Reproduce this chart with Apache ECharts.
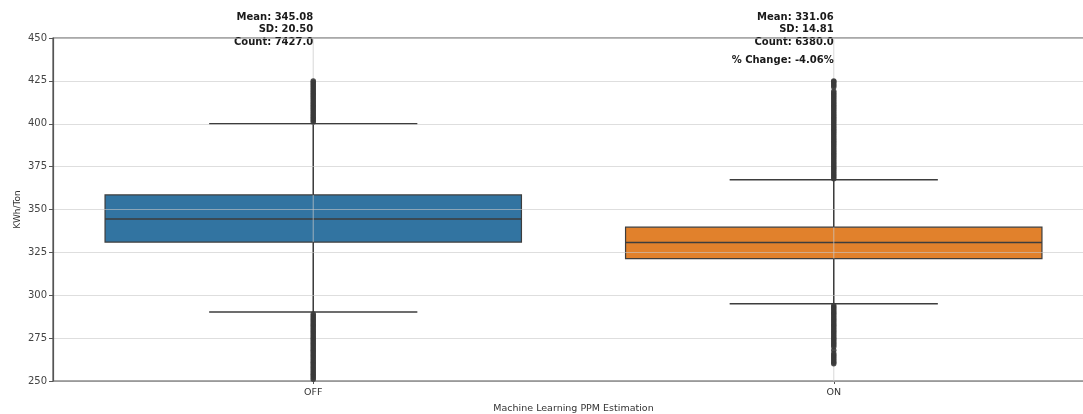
<!DOCTYPE html>
<html>
<head>
<meta charset="utf-8">
<script src="https://cdn.jsdelivr.net/npm/echarts@6/dist/echarts.min.js"></script>
<style>
  html, body { margin: 0; padding: 0; background: #fff; }
  #chart { width: 1083px; height: 414px; }
</style>
</head>
<body>
<div id="chart"></div>
<script>
// categories and box stats
var categories = ['OFF', 'ON'];
var q1 = [331.0, 321.4];
var medians = [344.5, 330.7];
var q3 = [358.5, 339.7];
var whiskerLow = [290.3, 295.0];
var whiskerHigh = [400.0, 367.3];
var boxColors = ['#3274a1', '#e1812c'];

// summary text
var means = ['345.08', '331.06'];
var sds = ['20.50', '14.81'];
var counts = ['7427.0', '6380.0'];
var pctChange = '-4.06%';

// outliers, estimated from the dense marker columns
var offHigh = [401, 402, 403, 404, 405, 406, 407, 408, 409, 410, 411, 412, 413,
    414, 415, 416, 417, 418, 419, 420, 421, 422, 423, 424, 425];
var offLow = [289, 288, 287, 286, 285, 284, 283, 282, 281, 280, 279, 278, 277,
    276, 275, 274, 273, 272, 271, 270, 269, 268, 267, 266, 265, 264, 263, 262,
    261, 260, 259, 258, 257, 256, 255, 254, 253, 252, 251];
var onHigh = [368, 369, 370, 371, 372, 373, 374, 375, 376, 377, 378, 379, 380,
    381, 382, 383, 384, 385, 386, 387, 388, 389, 390, 391, 392, 393, 394, 395,
    396, 397, 398, 399, 400, 401, 402, 403, 404, 405, 406, 407, 408, 409, 410,
    411, 412, 413, 414, 415, 416, 417, 418, 419, 421.5, 422.5, 423.5, 424.5, 425];
var onLow = [294, 293, 292, 291, 290, 289, 288, 287, 286, 285, 284, 283, 282,
    281, 280, 279, 278, 277, 276, 275, 274, 273, 272, 271, 270, 268, 266, 265,
    264, 263, 262, 261, 260];

var yTicks = [250, 275, 300, 325, 350, 375, 400, 425, 450];

var FONT = 'DejaVu Sans';
var EDGE = '#3d3d3d';

var boxData = [];
for (var i = 0; i < categories.length; i++)
    boxData.push([i, q1[i], medians[i], q3[i], whiskerLow[i], whiskerHigh[i]]);

var outlierData = [];
function addOutliers(idx, arr) {
    for (var k = 0; k < arr.length; k++)
        outlierData.push([idx, arr[k]]);
}
addOutliers(0, offHigh);
addOutliers(0, offLow);
addOutliers(1, onHigh);
addOutliers(1, onLow);

function renderBox(params, api) {
    var idx = api.value(0);
    var cs = params.coordSys;
    var cx = api.coord([idx, 0])[0];
    var band = api.size([1, 0])[0];
    var boxW = band * 0.8, capW = band * 0.4;
    var yQ1 = api.coord([idx, api.value(1)])[1];
    var yMed = api.coord([idx, api.value(2)])[1];
    var yQ3 = api.coord([idx, api.value(3)])[1];
    var yLo = api.coord([idx, api.value(4)])[1];
    var yHi = api.coord([idx, api.value(5)])[1];
    var lineStyle = { stroke: EDGE, lineWidth: 1.5 };
    var children = [
        {
            type: 'rect',
            shape: { x: cx - boxW / 2, y: yQ3, width: boxW, height: yQ1 - yQ3 },
            style: { fill: boxColors[idx], stroke: EDGE, lineWidth: 1.2 }
        },
        {
            type: 'line',
            shape: { x1: cx - boxW / 2, y1: yMed, x2: cx + boxW / 2, y2: yMed },
            style: { stroke: '#3d3d3d', lineWidth: 1.5 }
        },
        {
            // vertical grid line through the category
            type: 'line',
            shape: { x1: cx, y1: cs.y, x2: cx, y2: cs.y + cs.height },
            style: { stroke: 'rgba(200,200,200,0.6)', lineWidth: 1.2 }
        },
        { type: 'line', shape: { x1: cx, y1: yQ3, x2: cx, y2: yHi }, style: lineStyle },
        { type: 'line', shape: { x1: cx, y1: yQ1, x2: cx, y2: yLo }, style: lineStyle },
        { type: 'line', shape: { x1: cx - capW / 2, y1: yHi, x2: cx + capW / 2, y2: yHi }, style: lineStyle },
        { type: 'line', shape: { x1: cx - capW / 2, y1: yLo, x2: cx + capW / 2, y2: yLo }, style: lineStyle },
        {
            type: 'text',
            x: cx,
            y: cs.y - 8.5,
            style: {
                text: 'Mean: ' + means[idx] + '\nSD: ' + sds[idx] + '\nCount: ' + counts[idx],
                font: 'bold 10px "' + FONT + '"',
                lineHeight: 12.5,
                fill: '#1a1a1a',
                align: 'right',
                verticalAlign: 'middle'
            }
        }
    ];
    if (idx === 1) {
        children.push({
            type: 'text',
            x: cx,
            y: cs.y + 22,
            style: {
                text: '% Change: ' + pctChange,
                font: 'bold 10px "' + FONT + '"',
                fill: '#1a1a1a',
                align: 'right',
                verticalAlign: 'middle'
            }
        });
    }
    return { type: 'group', children: children };
}

var chart = echarts.init(document.getElementById('chart'));
chart.setOption({
    animation: false,
    textStyle: { fontFamily: FONT },
    grid: {
        left: 53, width: 1041, top: 38, bottom: 33,
        outerBoundsMode: 'none',
        containLabel: false,
        show: true, borderColor: '#555', borderWidth: 1.2
    },
    xAxis: {
        type: 'category',
        data: categories,
        name: 'Machine Learning PPM Estimation',
        nameLocation: 'middle',
        nameGap: 23,
        nameMoveOverlap: false,
        nameTextStyle: { fontSize: 9.5, color: '#333', fontFamily: FONT },
        axisLine: { lineStyle: { color: '#555', width: 1.2 } },
        axisTick: { show: true, alignWithLabel: true, length: 3, lineStyle: { color: '#555' } },
        axisLabel: { fontSize: 9.5, color: '#333', margin: 7, fontFamily: FONT },
        splitLine: { show: false }
    },
    yAxis: {
        type: 'value',
        min: 250,
        max: 450,
        interval: 25,
        z: 10,
        name: 'KWh/Ton',
        nameLocation: 'middle',
        nameGap: 31,
        nameMoveOverlap: false,
        nameTextStyle: { fontSize: 9, color: '#333', fontFamily: FONT },
        axisLine: { show: true, lineStyle: { color: '#555', width: 1.2 } },
        axisTick: { show: true, length: 4, lineStyle: { color: '#555' } },
        axisLabel: {
            fontSize: 10, color: '#444', margin: 6, fontFamily: FONT,
            formatter: function(v) { return yTicks.indexOf(v) > -1 ? String(v) : ''; }
        },
        splitLine: { show: true, lineStyle: { color: 'rgba(200,200,200,0.6)', width: 1.2 } }
    },
    series: [
        {
            type: 'custom',
            renderItem: renderBox,
            clip: false,
            encode: { x: 0, y: [1, 2, 3, 4, 5] },
            data: boxData,
            z: 2
        },
        {
            type: 'scatter',
            data: outlierData,
            symbol: 'circle',
            symbolSize: 5.5,
            itemStyle: { color: '#3a3a3a', opacity: 0.9 },
            z: 11
        }
    ]
});
</script>
</body>
</html>
